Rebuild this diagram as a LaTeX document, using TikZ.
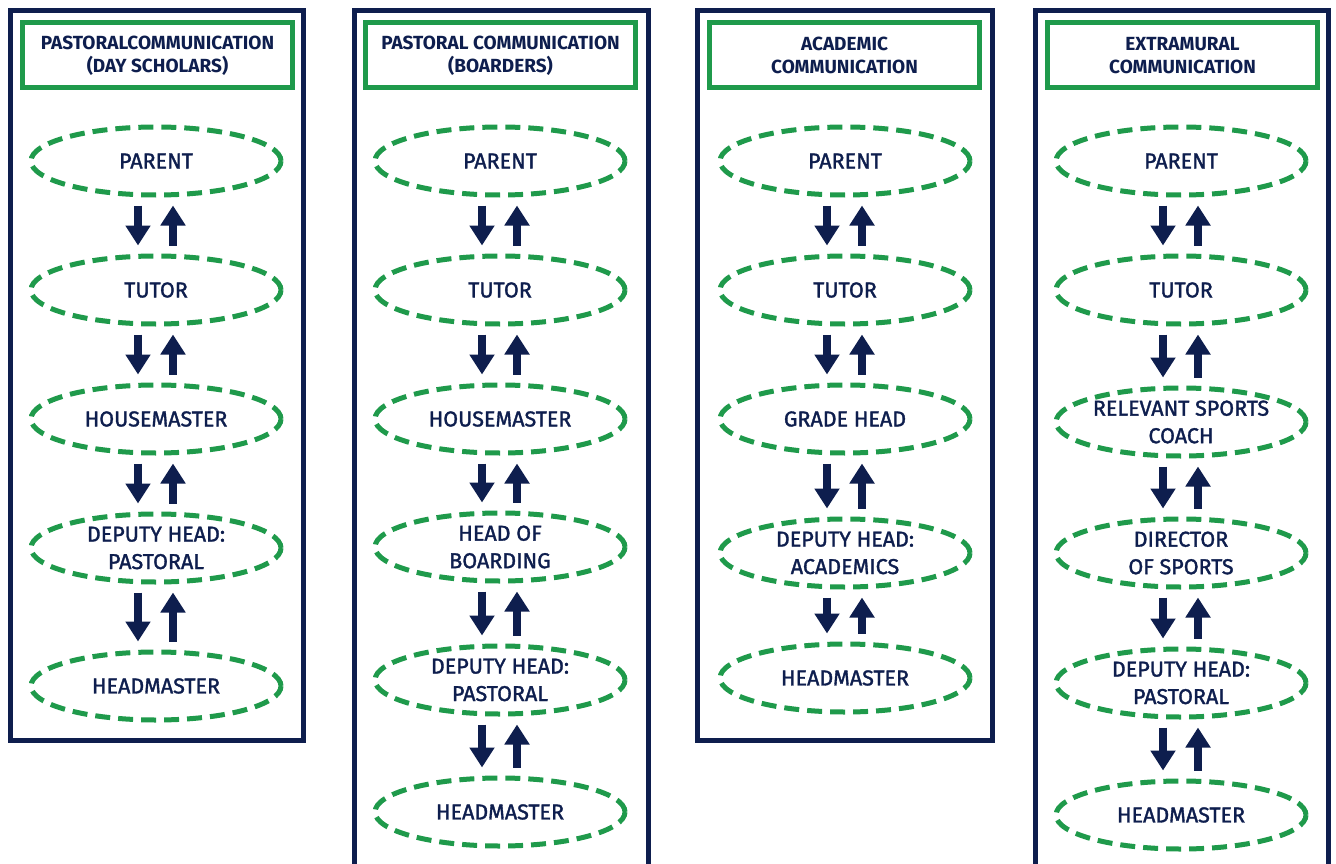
\documentclass[tikz,border=0pt]{standalone}
\usepackage{fontspec}
\setmainfont{Fira Sans}
\newfontfamily\rolefont{Fira Sans}[FakeBold=1.5]
\usetikzlibrary{shapes.geometric,arrows.meta}
\definecolor{navy}{HTML}{0E1E4E}
\definecolor{grn}{HTML}{1F9A4B}
\tikzset{
  colframe/.style={draw=navy,line width=5pt},
  titlebox/.style={draw=grn,line width=5pt,fill=white,minimum width=270pt,minimum height=65pt,inner sep=0pt,align=center,text=navy,font=\bfseries\fontsize{19}{23}\selectfont},
  role/.style={ellipse,draw=grn,line width=5pt,dash pattern=on 15pt off 8pt,minimum width=250pt,minimum height=68pt,inner sep=0pt,align=center,text=navy,font=\rolefont\fontsize{21.5}{27.5}\selectfont},
  flow/.style={draw=navy,line width=8pt,-{Triangle[width=24pt,length=20pt]}},
}
\newcommand\twoway[2]{%
  \draw[flow] ([xshift=-18pt,yshift=-8pt]#1.south) -- ([xshift=-18pt,yshift=8pt]#2.north);
  \draw[flow] ([xshift=17pt,yshift=8pt]#2.north) -- ([xshift=17pt,yshift=-8pt]#1.south);}
\begin{document}
\begin{tikzpicture}[x=1pt,y=-1pt]
\useasboundingbox (0,0) rectangle (1336,864);
\fill[white] (0,0) rectangle (1336,864);
\begin{scope}
\clip (0,0) rectangle (1336,864);
% frames
\draw[colframe] (10.5,10.5) rectangle (303.5,740);
\draw[colframe] (354.5,880) -- (354.5,10.5) -- (648,10.5) -- (648,880);
\draw[colframe] (697.5,10.5) rectangle (992,740);
\draw[colframe] (1035.5,880) -- (1035.5,10.5) -- (1328.5,10.5) -- (1328.5,880);
\end{scope}
% titles
\node[titlebox] (t1) at (157.5,55.5) {PASTORALCOMMUNICATION\\(DAY SCHOLARS)};
\node[titlebox] (t2) at (500.5,55.5) {PASTORAL COMMUNICATION\\(BOARDERS)};
\node[titlebox] (t3) at (844.5,55.5) {ACADEMIC\\COMMUNICATION};
\node[titlebox] (t4) at (1182.5,55.5) {EXTRAMURAL\\COMMUNICATION};
% column 1
\node[role] (a1) at (156,161) {PARENT};
\node[role] (a2) at (156,290) {TUTOR};
\node[role] (a3) at (156,419) {HOUSEMASTER};
\node[role] (a4) at (156,548) {DEPUTY HEAD:\\PASTORAL};
\node[role] (a5) at (156,686) {HEADMASTER};
\twoway{a1}{a2}\twoway{a2}{a3}\twoway{a3}{a4}\twoway{a4}{a5}
% column 2
\node[role] (b1) at (500,161) {PARENT};
\node[role] (b2) at (500,290) {TUTOR};
\node[role] (b3) at (500,419) {HOUSEMASTER};
\node[role] (b4) at (500,547) {HEAD OF\\BOARDING};
\node[role] (b5) at (500,680) {DEPUTY HEAD:\\PASTORAL};
\node[role] (b6) at (500,812) {HEADMASTER};
\twoway{b1}{b2}\twoway{b2}{b3}\twoway{b3}{b4}\twoway{b4}{b5}\twoway{b5}{b6}
% column 3
\node[role] (c1) at (845,161) {PARENT};
\node[role] (c2) at (845,290) {TUTOR};
\node[role] (c3) at (845,419) {GRADE HEAD};
\node[role] (c4) at (845,553) {DEPUTY HEAD:\\ACADEMICS};
\node[role] (c5) at (845,678) {HEADMASTER};
\twoway{c1}{c2}\twoway{c2}{c3}\twoway{c3}{c4}\twoway{c4}{c5}
% column 4
\node[role] (d1) at (1181,161) {PARENT};
\node[role] (d2) at (1181,290) {TUTOR};
\node[role] (d3) at (1181,422) {RELEVANT SPORTS\\COACH};
\node[role] (d4) at (1181,553) {DIRECTOR\\OF SPORTS};
\node[role] (d5) at (1181,683) {DEPUTY HEAD:\\PASTORAL};
\node[role] (d6) at (1181,815) {HEADMASTER};
\twoway{d1}{d2}\twoway{d2}{d3}\twoway{d3}{d4}\twoway{d4}{d5}\twoway{d5}{d6}
\end{tikzpicture}
\end{document}
